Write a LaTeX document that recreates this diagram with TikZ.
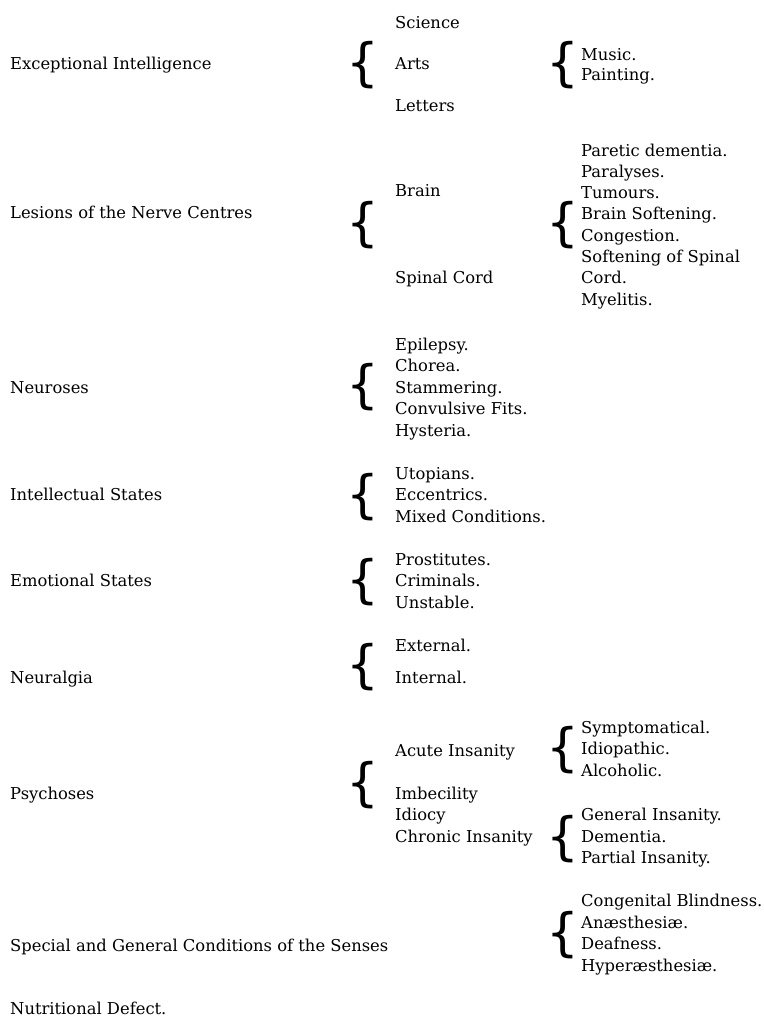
\documentclass[tikz,border=0pt]{standalone}
\usepackage{fontspec}
\setmainfont{DejaVu Serif}
\newfontfamily\bracefont{DejaVu Sans}
\begin{document}
\begin{tikzpicture}[x=1pt,y=-1pt,
  txt/.style={anchor=base west, inner sep=0pt, font=\fontsize{16.35}{21.5}\selectfont},
  brc/.style={anchor=center, inner sep=0pt, font=\bracefont\fontsize{51.6}{52}\selectfont}]
\useasboundingbox (0,0) rectangle (763,1017);
% ---- column 1 : main headings
\node[txt] (ei)   at (10,69.3)  {Exceptional Intelligence};
\node[txt] (les)  at (10,218.3) {Lesions of the Nerve Centres};
\node[txt] (neu)  at (10,393)   {Neuroses};
\node[txt] (int)  at (10,500.8) {Intellectual States};
\node[txt] (emo)  at (10,586.5) {Emotional States};
\node[txt] (nlg)  at (10,683.3) {Neuralgia};
\node[txt] (psy)  at (10,799)   {Psychoses};
\node[txt] (sen)  at (10,951)   {Special and General Conditions of the Senses};
\node[txt] (nut)  at (10,1014.5) {Nutritional Defect.};
% ---- first-level braces
\node[brc] (b1) at (363,65.5)  {\{};
\node[brc] (b2) at (363,225)   {\{};
\node[brc] (b3) at (363,387.5) {\{};
\node[brc] (b4) at (363,497.5) {\{};
\node[brc] (b5) at (363,582.5) {\{};
\node[brc] (b6) at (363,667.5) {\{};
\node[brc] (b7) at (363,785)   {\{};
% ---- second-level braces
\node[brc] (c1) at (563,65.5)  {\{};
\node[brc] (c2) at (563,225)   {\{};
\node[brc] (c3) at (563,750.5) {\{};
\node[brc] (c4) at (563,839.5) {\{};
\node[brc] (c5) at (563,935.5) {\{};
% ---- column 2
\node[txt] (sci) at (395,28.3)  {Science};
\node[txt] (art) at (395,69.3)  {Arts};
\node[txt] (let) at (395,111.7) {Letters};
\node[txt] (bra) at (395,196.7) {Brain};
\node[txt] (spi) at (395,283.3) {Spinal Cord};
\foreach \t [count=\i] in {Epilepsy., Chorea., Stammering., Convulsive Fits., Hysteria.}
  \node[txt] (neu\i) at (395,350+21.5*\i-21.5) {\t};
\foreach \t [count=\i] in {Utopians., Eccentrics., Mixed Conditions.}
  \node[txt] (int\i) at (395,479.3+21.5*\i-21.5) {\t};
\foreach \t [count=\i] in {Prostitutes., Criminals., Unstable.}
  \node[txt] (emo\i) at (395,565+21.5*\i-21.5) {\t};
\node[txt] (ext) at (395,651.7) {External.};
\node[txt] (inr) at (395,683.3) {Internal.};
\node[txt] (acu) at (395,756)   {Acute Insanity};
\node[txt] (imb) at (395,799)   {Imbecility};
\node[txt] (idi) at (395,820.5) {Idiocy};
\node[txt] (chr) at (395,842)   {Chronic Insanity};
% ---- column 3
\node[txt] (mus) at (581,60.7) {Music.};
\node[txt] (pai) at (581,80)   {Painting.};
\foreach \t [count=\i] in {Paretic dementia., Paralyses., Tumours., Brain Softening., Congestion., Softening of Spinal, Cord., Myelitis.}
  \node[txt] (br\i) at (581,156+21.3*\i-21.3) {\t};
\foreach \t [count=\i] in {Symptomatical., Idiopathic., Alcoholic.}
  \node[txt] (ac\i) at (581,733.3+21.5*\i-21.5) {\t};
\foreach \t [count=\i] in {General Insanity., Dementia., Partial Insanity.}
  \node[txt] (ch\i) at (581,820.7+21.5*\i-21.5) {\t};
\foreach \t [count=\i] in {Congenital Blindness., Anæsthesiæ., Deafness., Hyperæsthesiæ.}
  \node[txt] (se\i) at (581,906.7+21.5*\i-21.5) {\t};
\end{tikzpicture}
\end{document}
